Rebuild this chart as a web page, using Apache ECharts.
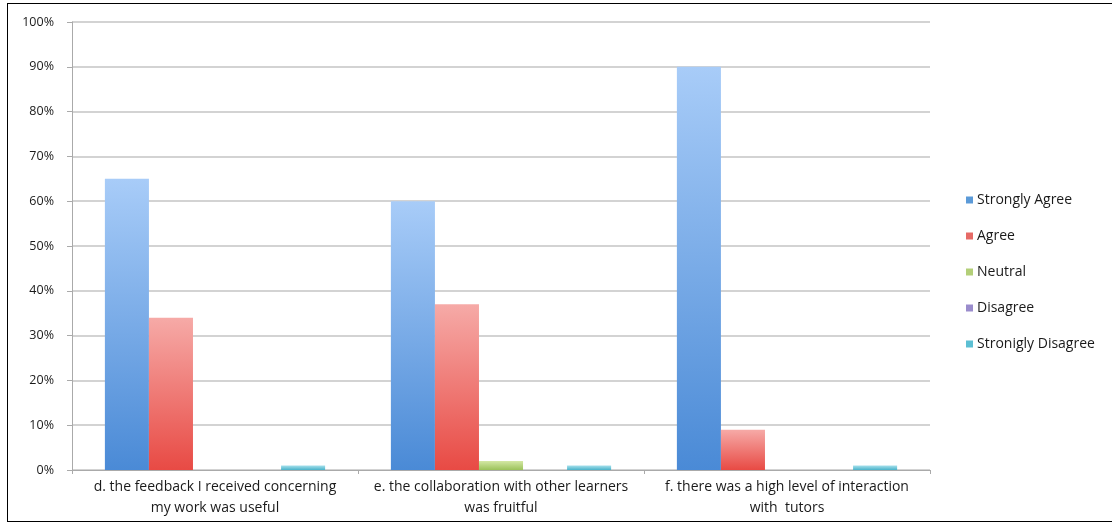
<!DOCTYPE html>
<html>
<head>
<meta charset="utf-8">
<script src="https://cdn.jsdelivr.net/npm/echarts@6/dist/echarts.min.js"></script>
<style>
html,body{margin:0;padding:0;background:#fff;}
#frame{position:absolute;left:7px;top:3px;width:1110px;height:519px;border:1px solid #000;box-sizing:border-box;}
#chart{position:absolute;left:0;top:0;width:1112px;height:526px;}
</style>
</head>
<body>
<div id="frame"></div>
<div id="chart"></div>
<script>
const categories = [
  "d. the feedback I received concerning\nmy work was useful",
  "e. the collaboration with other learners\nwas fruitful",
  "f. there was a high level of interaction\nwith  tutors"
];
const seriesNames = ["Strongly Agree", "Agree", "Neutral", "Disagree", "Stronigly Disagree"];
const stronglyAgree = [65, 60, 90];
const agree = [34, 37, 9];
const neutral = [0, 2, 0];
const disagree = [0, 0, 0];
const stronglyDisagree = [1, 1, 1];
const yTicks = [0, 10, 20, 30, 40, 50, 60, 70, 80, 90, 100];

const values = [stronglyAgree, agree, neutral, disagree, stronglyDisagree];
const grads = [
  ["#a8ccf8", "#4a8ad6"],
  ["#f6aaa7", "#e84a44"],
  ["#d4e8a4", "#9bc25a"],
  ["#b9aee0", "#7d6cbf"],
  ["#a6e0ec", "#49b2c9"]
];
const legendColors = ["#5b9ad8", "#e66a66", "#b3cf78", "#9a8ccc", "#5cbfd3"];

const chart = echarts.init(document.getElementById('chart'), null, {renderer: 'canvas'});
const font = "'Open Sans', 'Liberation Sans', sans-serif";
chart.setOption({
  animation: false,
  backgroundColor: 'transparent',
  grid: {left: 72, right: 182, top: 22, bottom: 56, containLabel: false},
  legend: {
    orient: 'vertical',
    left: 961,
    top: 188,
    itemGap: 22,
    itemWidth: 7,
    itemHeight: 7,
    icon: 'rect',
    textStyle: {fontFamily: font, fontSize: 14, color: '#1a1a1a', padding: [0, 0, 0, -1]},
    data: seriesNames.map((n, i) => ({name: n, itemStyle: {color: legendColors[i]}}))
  },
  xAxis: {
    type: 'category',
    data: categories,
    axisLine: {lineStyle: {color: '#aaaaaa', width: 1}},
    axisTick: {show: true, length: 4, lineStyle: {color: '#aaaaaa'}},
    axisLabel: {fontFamily: font, fontSize: 14, color: '#1a1a1a', lineHeight: 21, margin: 7, interval: 0}
  },
  yAxis: {
    type: 'value',
    min: 0, max: 100, interval: 10,
    axisLine: {show: true, lineStyle: {color: '#aaaaaa'}},
    axisTick: {show: true, length: 5, lineStyle: {color: '#aaaaaa'}},
    splitLine: {lineStyle: {color: '#c4c4c4', width: 1.5}},
    axisLabel: {fontFamily: font, fontSize: 12.5, color: '#1a1a1a', margin: 18,
      formatter: v => yTicks.includes(v) ? v + '%' : ''}
  },
  series: seriesNames.map((n, i) => ({
    name: n,
    type: 'bar',
    data: values[i],
    barGap: '0%',
    barCategoryGap: '23%',
    itemStyle: {
      color: new echarts.graphic.LinearGradient(0, 0, 0, 1, [
        {offset: 0, color: grads[i][0]},
        {offset: 1, color: grads[i][1]}
      ])
    }
  }))
});
</script>
</body>
</html>
